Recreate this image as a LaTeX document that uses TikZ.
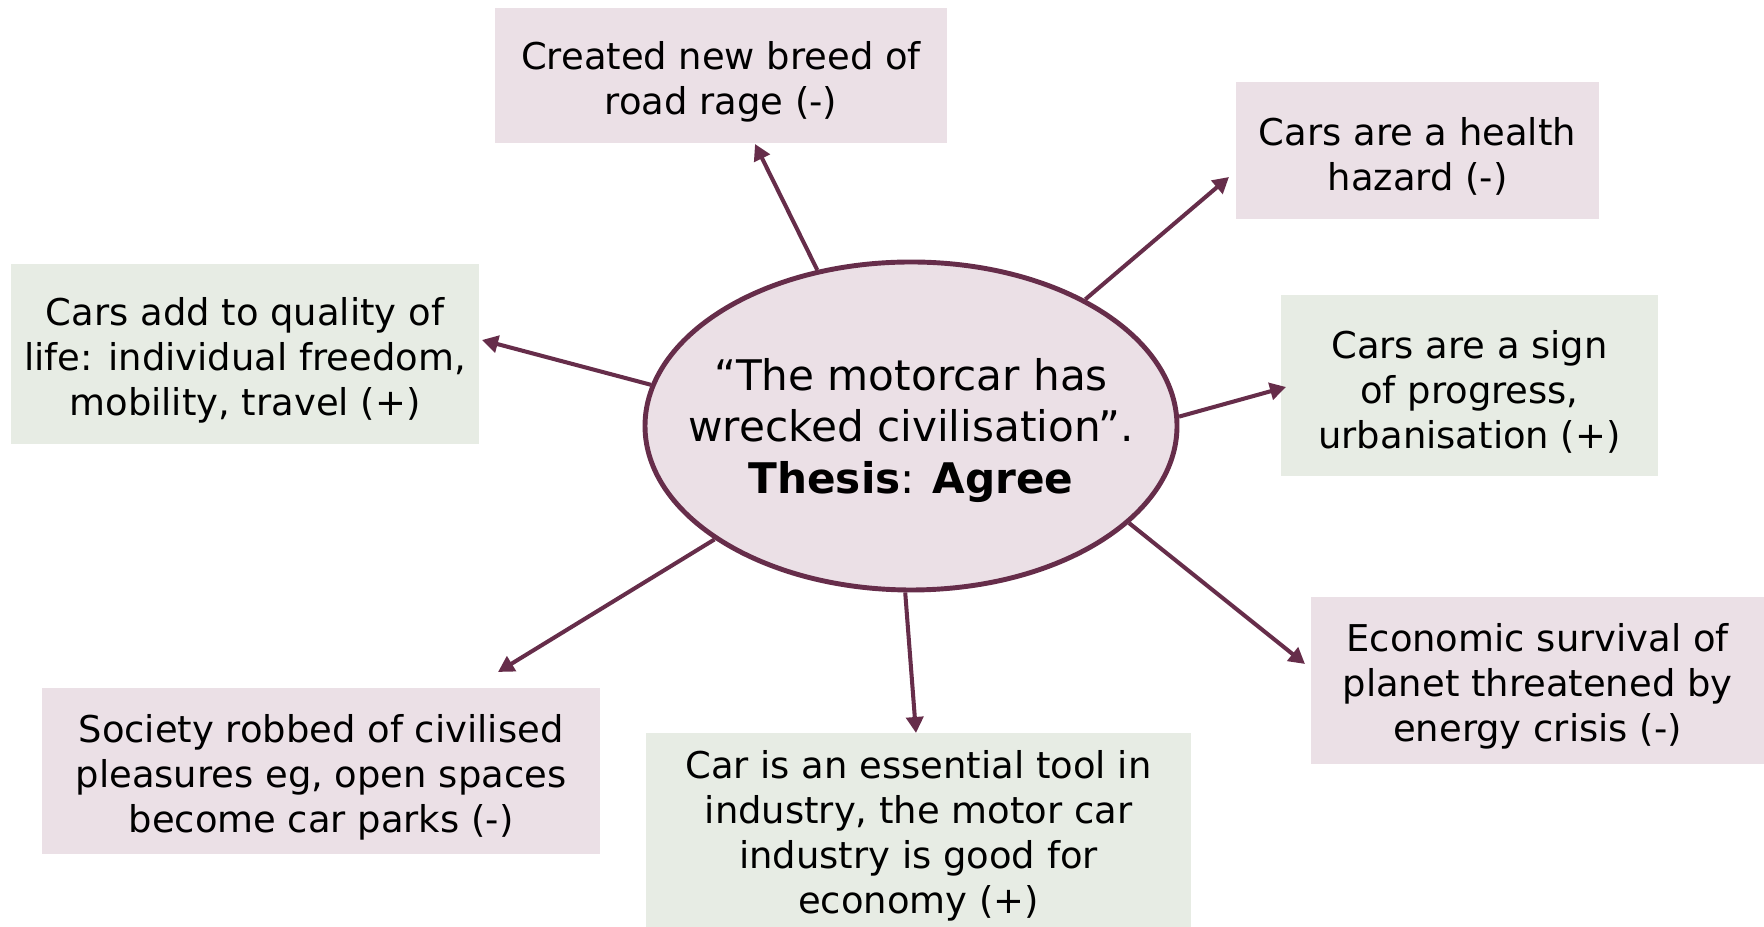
\documentclass[tikz,border=0pt]{standalone}
\usepackage{fontspec}
\setmainfont{DejaVu Sans}
\usetikzlibrary{arrows.meta,shapes.geometric}
\definecolor{wine}{RGB}{102,45,74}
\definecolor{pinkfill}{RGB}{235,224,230}
\definecolor{greenfill}{RGB}{231,236,228}
\newcommand{\padtop}{\rule{0pt}{11.4pt}}
\tikzset{
  box/.style={inner sep=0pt,align=center,font=\fontsize{10.5}{12.8}\selectfont},
  con/.style={box,fill=pinkfill},
  pro/.style={box,fill=greenfill},
  link/.style={wine,line width=1.15pt,-{Triangle[length=1.6mm,width=1.7mm]}}
}
\begin{document}
\begin{tikzpicture}
\useasboundingbox (0,0) rectangle (17.64,9.27);

% the thesis in the middle
\node[ellipse,draw=wine,line width=1.4pt,fill=pinkfill,inner sep=0pt,
  minimum width=5.32cm,minimum height=3.28cm] (thesis) at (9.11,5.01) {};
\node[align=center,font=\fontsize{12}{14.7}\selectfont] (thesistext) at ([yshift=-0.045cm]thesis.center)
  {``The motorcar has\\ wrecked civilisation''.\\ \textbf{Thesis}: \textbf{Agree}};

% arguments
\node[con,minimum width=4.52cm,minimum height=1.35cm] (rage) at (7.21,8.515)
  {\padtop Created new breed of\\ road rage (-)};
\node[con,minimum width=3.63cm,minimum height=1.37cm] (health) at (14.175,7.765)
  {\padtop Cars are a health\\ hazard (-)};
\node[pro,minimum width=4.68cm,minimum height=1.80cm] (quality) at (2.45,5.73)
  {\padtop Cars add to quality of\\ life: individual freedom,\\ mobility, travel (+)};
\node[pro,minimum width=3.77cm,minimum height=1.81cm] (progress) at (14.695,5.415)
  {\padtop Cars are a sign\\ of progress,\\ urbanisation (+)};
\node[con,minimum width=4.53cm,minimum height=1.67cm] (energy) at (15.375,2.465)
  {\padtop Economic survival of\\ planet threatened by\\ energy crisis (-)};
\node[con,minimum width=5.58cm,minimum height=1.66cm] (society) at (3.21,1.56)
  {\padtop Society robbed of civilised\\ pleasures eg, open spaces\\ become car parks (-)};
\node[pro,minimum width=5.45cm,minimum height=1.94cm] (industry) at (9.185,0.97)
  {\padtop Car is an essential tool in\\ industry, the motor car\\ industry is good for\\ economy (+)};

% arrow tips
\coordinate (tiprage) at (7.55,7.83);
\coordinate (tiphealth) at (12.29,7.50);
\coordinate (tipquality) at (4.82,5.87);
\coordinate (tipprogress) at (12.86,5.40);
\coordinate (tipenergy) at (13.05,2.63);
\coordinate (tipsociety) at (4.98,2.55);
\coordinate (tipindustry) at (9.16,1.94);

\draw[link] (thesis.121) -- (tiprage);
\draw[link] (thesis.36) -- (tiphealth);
\draw[link] (thesis.171) -- (tipquality);
\draw[link] (thesis.2) -- (tipprogress);
\draw[link] (thesis.-24) -- (tipenergy);
\draw[link] (thesis.210) -- (tipsociety);
\draw[link] (thesis.268) -- (tipindustry);
\end{tikzpicture}
\end{document}
